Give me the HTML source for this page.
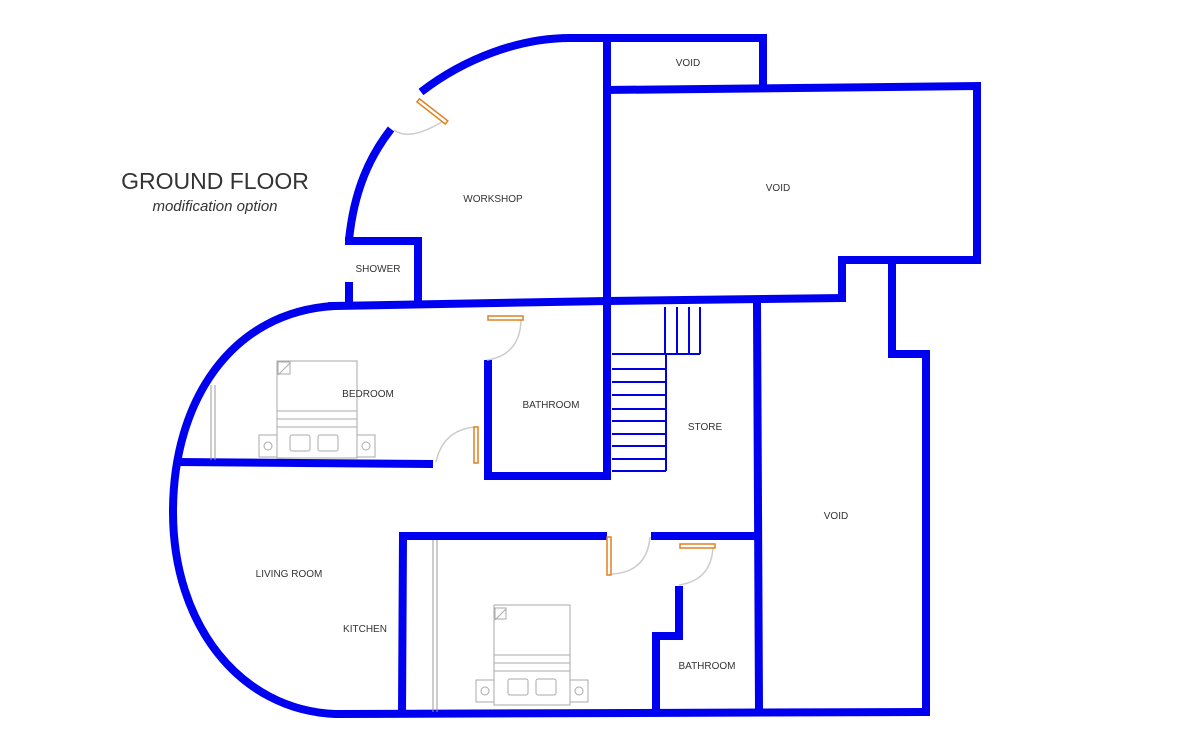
<!DOCTYPE html>
<html><head><style>
html,body{margin:0;padding:0;background:#fff;}
svg{display:block;}
text{font-family:"Liberation Sans",sans-serif;fill:#333;}
</style></head><body>
<svg width="1190" height="745" viewBox="0 0 1190 745" xmlns="http://www.w3.org/2000/svg">
<g fill="none" stroke="#0000f0" stroke-width="8" stroke-linecap="square">
<path d="M349,240 C354,190 370,156 391,129" stroke-linecap="butt"/>
<path d="M421,92 C465,58 520,38 570,38 L763,38 L763,86" stroke-linecap="butt"/>
<path d="M349,241 L418,241 L418,304"/>
<path d="M349,286 L349,303"/>
<path d="M332,306 L607,301 L840,298"/>
<path d="M607,38 L607,476"/>
<path d="M607,90 L977,86 L977,260 L842,260 L842,298"/>
<path d="M892,263 L892,354 L926,354 L926,712"/>
<path d="M757,306 L759,710"/>
<path d="M334,306 C232,312 173,400 173,512 C173,625 240,710 335,714 L926,712" stroke-linecap="butt"/>
<path d="M176,462 L433,464" stroke-linecap="butt"/>
<path d="M488,364 L488,476 L607,476"/>
<path d="M403,536 L603,536" />
<path d="M403,536 L402,712"/>
<path d="M655,536 L757,536"/>
<path d="M679,590 L679,636 L656,636 L656,712"/>
</g>
<g stroke="#0000e0" stroke-width="2" fill="none">
<path d="M665,307 L665,354 M677,307 L677,354 M689,307 L689,354 M700,307 L700,354 M612,354 L700,354 M666,354 L666,471"/>
<path d="M612,369 L666,369 M612,382 L666,382 M612,395 L666,395 M612,409 L666,409 M612,421 L666,421 M612,434 L666,434 M612,446 L666,446 M612,459 L666,459 M612,471 L666,471"/>
</g>
<g stroke="#999" stroke-width="1">
<path d="M211,385 L211,460 M215,385 L215,460"/>
<path d="M433,540 L433,712 M437,540 L437,712"/>
</g>
<g stroke="#ccc" stroke-width="1.5" fill="none">
<path d="M394,130 Q410,142 445,120"/>
<path d="M521,320 Q520,355 487,360"/>
<path d="M475,427 Q443,430 436,462"/>
<path d="M650,537 Q647,572 612,574"/>
<path d="M713,546 Q712,580 679,585"/>
</g>
<g fill="#fff" stroke="#e08020" stroke-width="1.5">
<rect x="419" y="100" width="36" height="4" transform="rotate(38 421 100)"/>
<rect x="488" y="316" width="35" height="4"/>
<rect x="474" y="427" width="4" height="36"/>
<rect x="607" y="537" width="4" height="38"/>
<rect x="680" y="544" width="35" height="4"/>
</g>
<g fill="none" stroke="#aaa" stroke-width="1">
<rect x="277" y="361" width="80" height="97"/><rect x="277" y="411" width="80" height="8"/><rect x="277" y="419" width="80" height="8"/>
<path d="M278,375 L290,363 M278,362 L290,362 L290,374 L278,374 Z"/>
<rect x="259" y="435" width="18" height="22"/><circle cx="268" cy="446" r="4"/>
<rect x="357" y="435" width="18" height="22"/><circle cx="366" cy="446" r="4"/>
<rect x="290" y="435" width="20" height="16" rx="2"/><rect x="318" y="435" width="20" height="16" rx="2"/>
<rect x="494" y="605" width="76" height="100"/><rect x="494" y="655" width="76" height="8"/><rect x="494" y="663" width="76" height="8"/>
<path d="M495,620 L506,609 M495,608 L506,608 L506,619 L495,619 Z"/>
<rect x="476" y="680" width="18" height="22"/><circle cx="485" cy="691" r="4"/>
<rect x="570" y="680" width="18" height="22"/><circle cx="579" cy="691" r="4"/>
<rect x="508" y="679" width="20" height="16" rx="2"/><rect x="536" y="679" width="20" height="16" rx="2"/>
</g>
<g font-size="10" text-anchor="middle">
<text x="688" y="66">VOID</text>
<text x="778" y="191">VOID</text>
<text x="493" y="202">WORKSHOP</text>
<text x="378" y="272">SHOWER</text>
<text x="368" y="397">BEDROOM</text>
<text x="551" y="408">BATHROOM</text>
<text x="705" y="430">STORE</text>
<text x="836" y="519">VOID</text>
<text x="289" y="577">LIVING ROOM</text>
<text x="365" y="632">KITCHEN</text>
<text x="707" y="669">BATHROOM</text>
</g>
<text x="215" y="189" font-size="23" text-anchor="middle" fill="#222">GROUND FLOOR</text>
<text x="215" y="211" font-size="15" font-style="italic" text-anchor="middle" fill="#222">modification option</text>
</svg>
</body></html>
